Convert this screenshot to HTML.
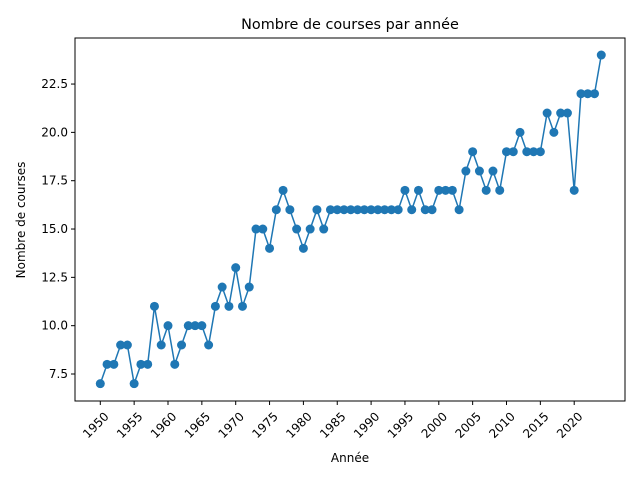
<!DOCTYPE html>
<html><head><meta charset="utf-8"><style>body{margin:0;background:#fff}svg{font-family:"DejaVu Sans","Liberation Sans",sans-serif}</style></head>
<body>
<svg id="chart" width="640" height="480" xmlns="http://www.w3.org/2000/svg"></svg>
<script>
const years = [];
for (let y = 1950; y <= 2024; y++) years.push(y);
const races = [7,8,8,9,9,7,8,8,11,9,10,8,9,10,10,10,9,11,12,11,13,11,12,15,15,14,16,17,16,15,14,15,16,15,16,16,16,16,16,16,16,16,16,16,16,17,16,17,16,16,17,17,17,16,18,19,18,17,18,17,19,19,20,19,19,19,21,20,21,21,17,22,22,22,24];
const xTicks = [1950,1955,1960,1965,1970,1975,1980,1985,1990,1995,2000,2005,2010,2015,2020];
const yTicks = [7.5,10.0,12.5,15.0,17.5,20.0,22.5];
const L=75,R=625,T=38,B=401;
const x0=1950,px0=100.3,pxPerYear=6.77;
const yRef=7.5,pyRef=374,pxPerUnit=19.33;
const xs=v=>px0+(v-x0)*pxPerYear;
const ys=v=>pyRef-(v-yRef)*pxPerUnit;
const svg=document.getElementById('chart');
const NS='http://www.w3.org/2000/svg';
function mk(t,a,p){const e=document.createElementNS(NS,t);for(const k in a)e.setAttribute(k,a[k]);(p||svg).appendChild(e);return e;}
let e;
e=mk('rect',{x:L,y:T,width:R-L,height:B-T,fill:'none',stroke:'#000','stroke-width':1});


xTicks.forEach(t=>{const X=xs(t);
 e=mk('line',{x1:X,x2:X,y1:B,y2:B+4,stroke:'#000'});
 
 
 e=mk('text',{x:X+3,y:B+10,'font-size':12,'text-anchor':'end',transform:`rotate(-45 ${X+3} ${B+10})`,'dominant-baseline':'hanging'});
 e.textContent=t;
 
 
});
yTicks.forEach(t=>{const Y=ys(t);
 e=mk('line',{x1:L-4,x2:L,y1:Y,y2:Y,stroke:'#000'});
 
 
 e=mk('text',{x:L-7,y:Y+4,'font-size':12,'text-anchor':'end'});
 e.textContent=t.toFixed(1);
 
 
});
e=mk('polyline',{points:years.map((y,i)=>xs(y)+','+ys(races[i])).join(' '),fill:'none',stroke:'#1f77b4','stroke-width':1.5});


years.forEach((y,i)=>{e=mk('circle',{cx:xs(y),cy:ys(races[i]),r:4.5,fill:'#1f77b4'});
 
 
});
e=mk('text',{x:350,y:29,'font-size':14.4,'text-anchor':'middle'});e.textContent='Nombre de courses par année';


e=mk('text',{x:350,y:462,'font-size':12,'text-anchor':'middle'});e.textContent='Année';


e=mk('text',{x:25,y:220,'font-size':12,'text-anchor':'middle',transform:'rotate(-90 25 220)'});e.textContent='Nombre de courses';


</script>
</body></html>
